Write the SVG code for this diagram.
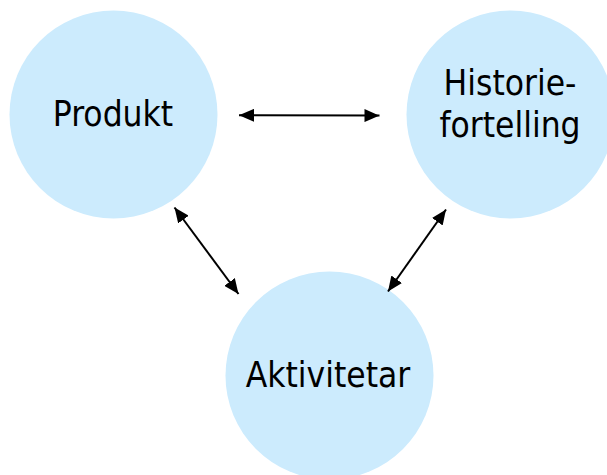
<svg xmlns="http://www.w3.org/2000/svg" width="607" height="475" viewBox="0 0 607 475">
<style>
.node{fill:#CCEBFD;}
.lbl{font-family:"DejaVu Sans Condensed","Liberation Sans",sans-serif;font-size:35px;fill:#000;text-anchor:middle;}
.conn{stroke:#000;stroke-width:2;fill:none;marker-start:url(#ah);marker-end:url(#ah);}
</style>
<defs>
<marker id="ah" viewBox="0 0 10 10" refX="10" refY="5" markerWidth="15" markerHeight="13" markerUnits="userSpaceOnUse" orient="auto-start-reverse" preserveAspectRatio="none">
<path d="M0,0 L10,5 L0,10 Z" fill="#000"/>
</marker>
</defs>
<rect width="607" height="475" fill="#fff"/>
<g id="produkt">
<circle class="node" cx="113.5" cy="114.5" r="104"/>
<text class="lbl" x="113" y="125.5">Produkt</text>
</g>
<g id="historiefortelling">
<circle class="node" cx="510.5" cy="114.5" r="104"/>
<text class="lbl" x="510" y="94.5">Historie-</text>
<text class="lbl" x="510" y="137">fortelling</text>
</g>
<g id="aktivitetar">
<circle class="node" cx="329.5" cy="375.5" r="104"/>
<text class="lbl" x="328" y="386.5">Aktivitetar</text>
</g>
<g id="connectors">
<line class="conn" x1="239" y1="115.3" x2="379.5" y2="115.6"/>
<line class="conn" x1="174.5" y1="207.5" x2="238.5" y2="294"/>
<line class="conn" x1="446" y1="209.5" x2="388" y2="291.5"/>
</g>
</svg>
